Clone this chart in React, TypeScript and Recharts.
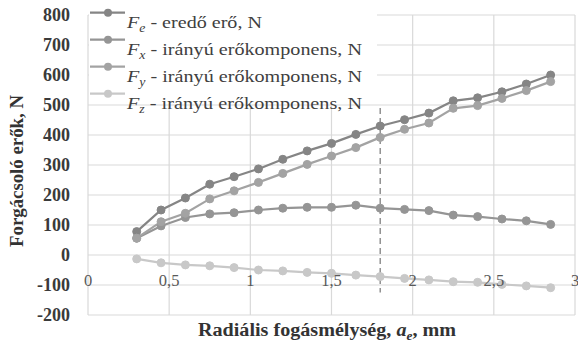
import React from 'react';
import { LineChart, Line, XAxis, YAxis, CartesianGrid, ReferenceLine } from 'recharts';

const depths = [0.3, 0.45, 0.6, 0.75, 0.9, 1.05, 1.2, 1.35, 1.5, 1.65, 1.8, 1.95, 2.1, 2.25, 2.4, 2.55, 2.7, 2.85];
const feValues = [78, 150, 190, 236, 261, 287, 319, 347, 372, 402, 430, 451, 473, 514, 524, 544, 570, 600];
const fxValues = [56, 97, 125, 137, 141, 150, 156, 159, 159, 166, 156, 152, 148, 133, 128, 120, 114, 102];
const fyValues = [56, 111, 139, 187, 214, 242, 272, 302, 330, 358, 392, 419, 440, 489, 498, 522, 548, 578];
const fzValues = [-13, -26, -33, -36, -42, -50, -53, -58, -61, -67, -72, -78, -83, -89, -91, -98, -103, -109];

const xTicks = [0, 0.5, 1, 1.5, 2, 2.5, 3];
const yTicks = [-200, -100, 0, 100, 200, 300, 400, 500, 600, 700, 800];

const seriesKeys = ['fe', 'fx', 'fy', 'fz'];
const seriesSubs = ['e', 'x', 'y', 'z'];
const seriesTexts = [' - eredő erő, N', ' - irányú erőkomponens, N', ' - irányú erőkomponens, N', ' - irányú erőkomponens, N'];
const seriesColors = ['#858585', '#959595', '#a3a3a3', '#c8c8c8'];

const markerDepth = 1.8;
const markerRange = [490, -125];

const data = depths.map((d, i) => ({ x: d, fe: feValues[i], fx: fxValues[i], fy: fyValues[i], fz: fzValues[i] }));

const FONT = "'Liberation Serif', 'Times New Roman', Tinos, 'DejaVu Serif', serif";

const XTick = (props: any) => {
  const { x, y, payload } = props;
  return (
    <text x={x} y={y - 29} textAnchor="middle" fontFamily={FONT} fontSize={16.5} fill="#595959">
      {String(payload.value).replace('.', ',')}
    </text>
  );
};

const XTitle = () => (
  <text x={198} y={336} fontFamily={FONT} fontSize={18} fontWeight="bold" fill="#333" textLength={258} lengthAdjust="spacingAndGlyphs">
    Radiális fogásmélység, <tspan fontStyle="italic">a</tspan>
    <tspan fontStyle="italic" fontSize={12} dy={4}>e</tspan>
    <tspan dy={-4}>, mm</tspan>
  </text>
);

const YTitle = () => {
  const cx = 17;
  const cy = 171;
  return (
    <text x={cx} y={cy} transform={`rotate(-90 ${cx} ${cy})`} textAnchor="middle" dominantBaseline="central" fontFamily={FONT} fontSize={18} fontWeight="bold" fill="#333" textLength={152} lengthAdjust="spacingAndGlyphs">
      Forgácsoló erők, N
    </text>
  );
};

const legendWidths = [135, 235, 235, 235];

const LegendBox = () => (
  <svg width={300} height={120} style={{ position: 'absolute', left: 89, top: 0 }}>
    <rect x={0} y={0} width={288} height={104} fill="#ffffff" />
    {seriesKeys.map((k, i) => {
      const cy = 12.7 + i * 27;
      return (
        <g key={k}>
          <line x1={1} x2={36} y1={cy} y2={cy} stroke={seriesColors[i]} strokeWidth={2.2} />
          <circle cx={19} cy={cy} r={4} fill={seriesColors[i]} />
          <text x={38} y={cy + 15} fontFamily={FONT} fontSize={17.5} fill="#404040" textLength={legendWidths[i]} lengthAdjust="spacingAndGlyphs">
            <tspan fontStyle="italic">F</tspan>
            <tspan fontStyle="italic" fontSize={12} dy={4}>{seriesSubs[i]}</tspan>
            <tspan dy={-4}>{seriesTexts[i]}</tspan>
          </text>
        </g>
      );
    })}
  </svg>
);

export default function App() {
  return (
    <div style={{ position: 'absolute', left: 0, top: 0, width: 578, height: 342, background: '#fff' }}>
      <LineChart width={578} height={342} data={data} margin={{ top: 15, right: 3, left: 0, bottom: 0 }}>
        <CartesianGrid stroke="#d9d9d9" strokeWidth={1.2} />
        <XAxis
          type="number"
          dataKey="x"
          domain={[0, 3]}
          ticks={xTicks}
          interval={0}
          axisLine={false}
          tickLine={false}
          tickSize={0}
          tickMargin={0}
          height={27}
          tick={<XTick />}
        />
        <YAxis
          type="number"
          domain={[-200, 800]}
          ticks={yTicks}
          interval={0}
          axisLine={false}
          tickLine={false}
          tickSize={0}
          tickMargin={18}
          width={88}
          tick={{ fontSize: 18, fontWeight: 'bold', fill: '#3a3a3a', fontFamily: FONT }}
        />
        <ReferenceLine
          segment={[{ x: markerDepth, y: markerRange[0] }, { x: markerDepth, y: markerRange[1] }]}
          stroke="#808080"
          strokeWidth={1.3}
          strokeDasharray="6 4"
        />
        {seriesKeys.map((k, i) => (
          <Line
            key={k}
            dataKey={k}
            stroke={seriesColors[i]}
            strokeWidth={2.2}
            dot={{ r: 4, fill: seriesColors[i], stroke: seriesColors[i], strokeWidth: 1 }}
            activeDot={false}
            isAnimationActive={false}
          />
        ))}
      </LineChart>
      <svg width={578} height={342} style={{ position: 'absolute', left: 0, top: 0, pointerEvents: 'none' }}>
        <XTitle />
        <YTitle />
      </svg>
      <LegendBox />
    </div>
  );
}
